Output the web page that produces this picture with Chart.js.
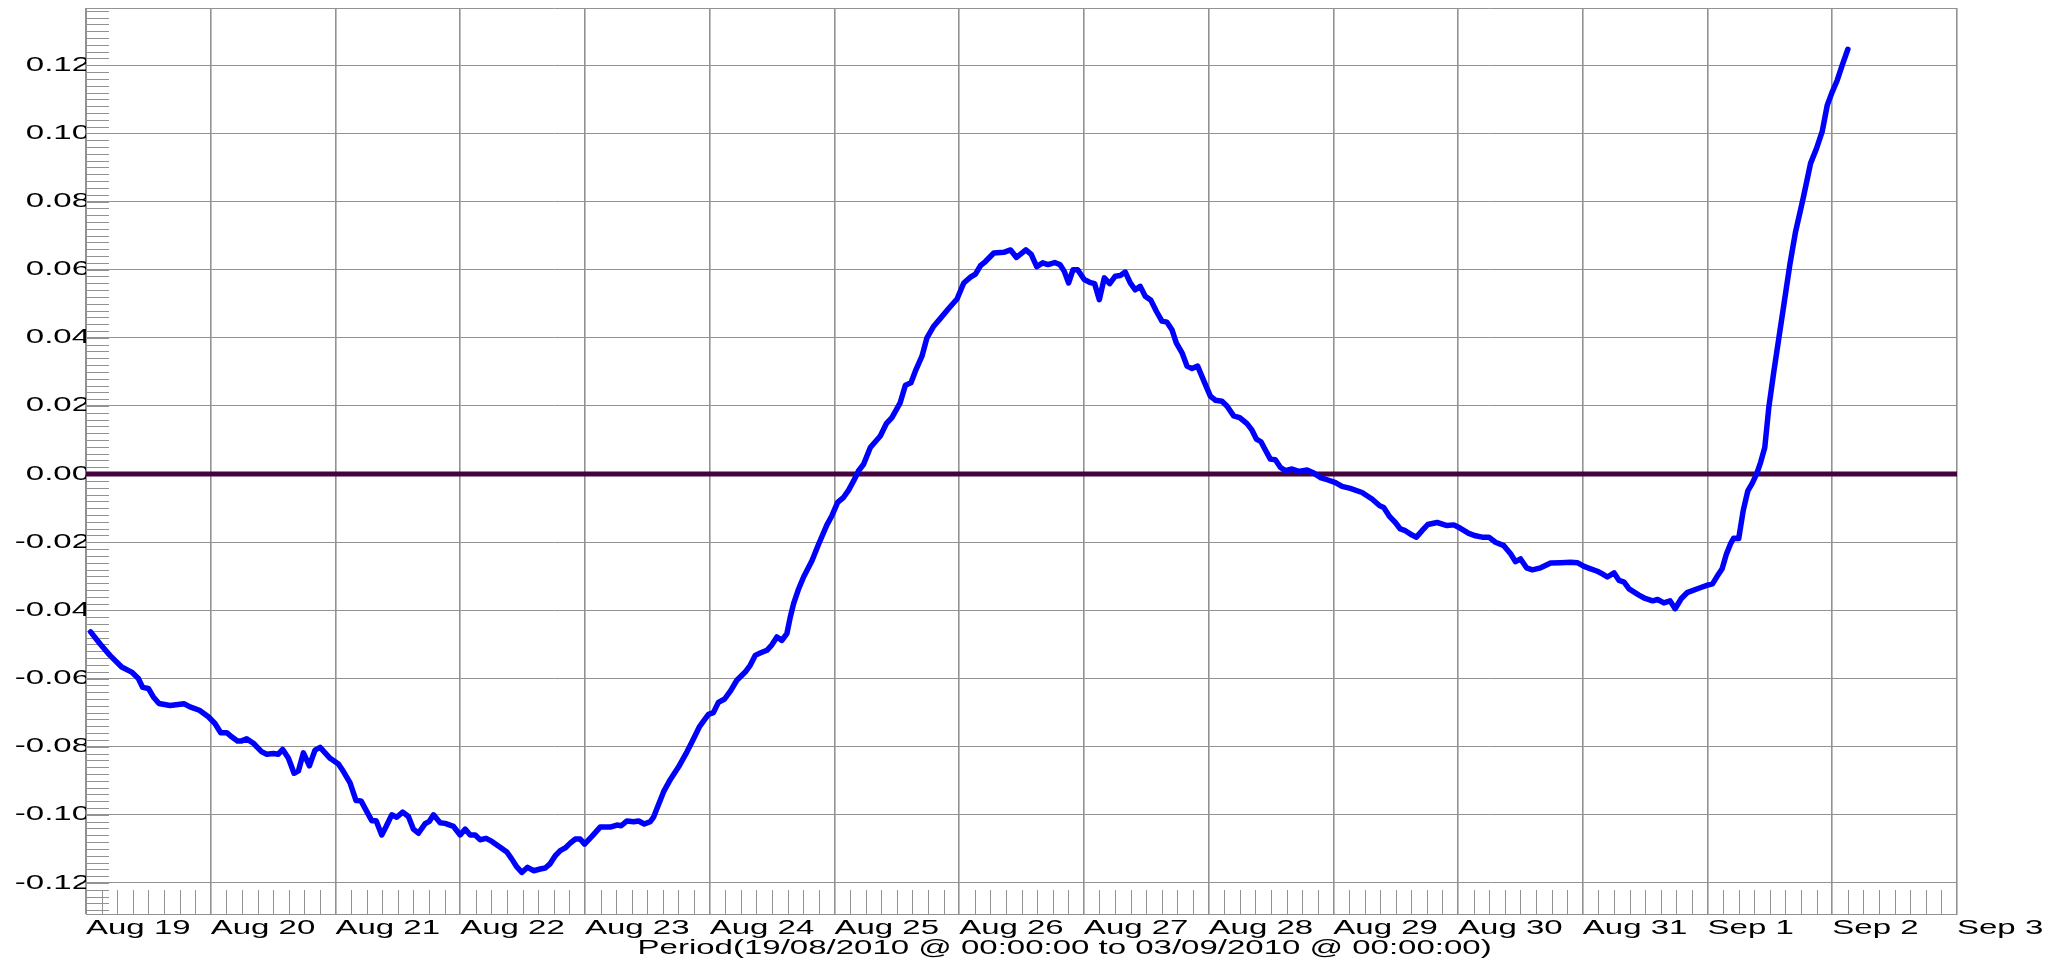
<!DOCTYPE html>
<html lang="en">
<head>
<meta charset="UTF-8">
<title>Period chart</title>
<script src="https://cdn.jsdelivr.net/npm/chart.js"></script>
<style>
body {
    margin: 0;
    background: #fff;
}
#wrap { width: 2069px; height: 962px; }
</style>
</head>
<body>
<div id="wrap"><canvas id="periodChart" width="2069" height="962"></canvas></div>
<script>
// x = days since 19/08/2010 00:00
const days=[
    0.037,0.112,0.192,0.286,0.366,0.420,0.454,0.500,0.540,0.585,0.674,0.786,0.834,0.909,0.981,
    1.034,1.080,1.128,1.168,1.214,1.248,1.288,1.342,1.409,1.449,1.502,1.542,1.577,1.623,1.668,
    1.703,1.743,1.791,1.836,1.877,1.917,1.957,2.024,2.064,2.117,2.165,2.205,2.246,2.291,2.326,
    2.371,2.406,2.451,2.491,2.539,2.585,2.625,2.665,2.719,2.753,2.786,2.839,2.879,2.946,3.000,
    3.040,3.080,3.120,3.160,3.208,3.254,3.320,3.374,3.414,3.454,3.494,3.540,3.588,3.642,3.682,
    3.722,3.762,3.802,3.842,3.882,3.922,3.962,3.997,4.056,4.122,4.203,4.256,4.291,4.337,4.390,
    4.430,4.476,4.524,4.550,4.583,4.631,4.685,4.751,4.818,4.858,4.920,4.990,5.030,5.070,5.120,
    5.170,5.218,5.285,5.325,5.365,5.405,5.459,5.499,5.539,5.579,5.619,5.646,5.673,5.713,5.753,
    5.820,5.874,5.940,5.980,6.026,6.074,6.114,6.154,6.194,6.234,6.288,6.328,6.368,6.416,6.461,
    6.528,6.569,6.614,6.649,6.702,6.742,6.796,6.850,6.916,6.983,7.037,7.091,7.131,7.171,7.211,
    7.278,7.358,7.412,7.460,7.535,7.578,7.622,7.670,7.712,7.766,7.808,7.843,7.878,7.913,7.950,
    8.003,8.046,8.086,8.124,8.164,8.207,8.252,8.292,8.332,8.372,8.412,8.452,8.492,8.538,8.581,
    8.626,8.666,8.706,8.741,8.787,8.827,8.867,8.912,8.960,9.014,9.054,9.107,9.147,9.201,9.249,
    9.308,9.348,9.383,9.420,9.455,9.495,9.535,9.575,9.615,9.669,9.722,9.789,9.843,9.896,9.963,
    10.017,10.070,10.136,10.230,10.310,10.372,10.404,10.452,10.497,10.537,10.577,10.631,10.666,10.711,10.757,
    10.832,10.912,10.966,11.019,11.086,11.140,11.193,11.247,11.300,11.367,11.421,11.461,11.501,11.549,11.595,
    11.662,11.742,11.822,11.902,11.956,12.010,12.063,12.117,12.157,12.197,12.251,12.291,12.331,12.371,12.450,
    12.500,12.560,12.600,12.650,12.700,12.740,12.790,12.836,12.930,13.000,13.040,13.077,13.117,13.152,13.184,
    13.210,13.250,13.286,13.323,13.358,13.393,13.425,13.459,13.491,13.532,13.572,13.612,13.660,13.706,13.767,
    13.826,13.874,13.919,13.960,14.000,14.040,14.080,14.125
];
const values=[
    -0.0463,-0.0498,-0.0532,-0.0566,-0.0581,-0.0600,-0.0626,-0.0629,-0.0654,-0.0673,-0.0679,-0.0674,-0.0683,-0.0693,-0.0712,
    -0.0732,-0.0759,-0.0759,-0.0771,-0.0783,-0.0783,-0.0777,-0.0790,-0.0815,-0.0822,-0.0820,-0.0822,-0.0808,-0.0834,-0.0878,
    -0.0871,-0.0818,-0.0856,-0.0810,-0.0802,-0.0818,-0.0834,-0.0851,-0.0873,-0.0906,-0.0958,-0.0959,-0.0987,-0.1017,-0.1017,
    -0.1059,-0.1034,-0.1000,-0.1007,-0.0992,-0.1005,-0.1042,-0.1054,-0.1026,-0.1019,-0.1000,-0.1023,-0.1025,-0.1034,-0.1059,
    -0.1042,-0.1059,-0.1059,-0.1073,-0.1069,-0.1078,-0.1095,-0.1109,-0.1130,-0.1153,-0.1169,-0.1154,-0.1164,-0.1159,-0.1156,
    -0.1143,-0.1120,-0.1105,-0.1097,-0.1083,-0.1071,-0.1071,-0.1086,-0.1063,-0.1036,-0.1036,-0.1030,-0.1032,-0.1018,-0.1020,
    -0.1018,-0.1027,-0.1020,-0.1007,-0.0976,-0.0932,-0.0896,-0.0859,-0.0815,-0.0786,-0.0740,-0.0705,-0.0700,-0.0670,-0.0660,
    -0.0635,-0.0605,-0.0581,-0.0561,-0.0532,-0.0525,-0.0517,-0.0501,-0.0478,-0.0488,-0.0468,-0.0420,-0.0380,-0.0337,-0.0302,
    -0.0254,-0.0205,-0.0149,-0.0122,-0.0083,-0.0068,-0.0047,-0.0020,0.0010,0.0029,0.0078,0.0095,0.0112,0.0148,0.0166,
    0.0210,0.0261,0.0268,0.0302,0.0346,0.0400,0.0434,0.0457,0.0486,0.0514,0.0561,0.0578,0.0587,0.0612,0.0624,
    0.0649,0.0651,0.0658,0.0636,0.0658,0.0645,0.0609,0.0620,0.0615,0.0621,0.0615,0.0595,0.0561,0.0600,0.0600,
    0.0571,0.0563,0.0559,0.0512,0.0576,0.0559,0.0581,0.0583,0.0593,0.0561,0.0541,0.0551,0.0522,0.0510,0.0478,
    0.0449,0.0446,0.0424,0.0385,0.0356,0.0317,0.0310,0.0317,0.0275,0.0229,0.0217,0.0214,0.0200,0.0171,0.0166,
    0.0148,0.0129,0.0103,0.0095,0.0071,0.0044,0.0042,0.0020,0.0010,0.0015,0.0008,0.0012,0.0003,-0.0010,-0.0018,
    -0.0025,-0.0036,-0.0042,-0.0054,-0.0073,-0.0093,-0.0098,-0.0125,-0.0142,-0.0161,-0.0166,-0.0179,-0.0185,-0.0166,-0.0148,
    -0.0142,-0.0151,-0.0149,-0.0159,-0.0174,-0.0181,-0.0185,-0.0185,-0.0200,-0.0210,-0.0234,-0.0257,-0.0249,-0.0275,-0.0281,
    -0.0275,-0.0261,-0.0260,-0.0259,-0.0260,-0.0271,-0.0278,-0.0285,-0.0293,-0.0302,-0.0290,-0.0312,-0.0317,-0.0337,-0.0355,
    -0.0365,-0.0372,-0.0368,-0.0378,-0.0372,-0.0395,-0.0365,-0.0348,-0.0335,-0.0326,-0.0322,-0.0300,-0.0278,-0.0234,-0.0205,
    -0.0188,-0.0189,-0.0107,-0.0049,-0.0027,0.0000,0.0034,0.0078,0.0195,0.0302,0.0400,0.0497,0.0615,0.0712,0.0810,
    0.0912,0.0956,0.1005,0.1083,0.1122,0.1156,0.1200,0.1247
];

const dayLabels=["Aug 19","Aug 20","Aug 21","Aug 22","Aug 23","Aug 24","Aug 25","Aug 26",
    "Aug 27","Aug 28","Aug 29","Aug 30","Aug 31","Sep 1","Sep 2","Sep 3"];
const yTicks=[-0.12,-0.10,-0.08,-0.06,-0.04,-0.02,0,0.02,0.04,0.06,0.08,0.10,0.12];
const zeroLine=[0,0];
const axisTitle="Period(19/08/2010 @ 00:00:00 to 03/09/2010 @ 00:00:00)";

const Y_MIN=-0.1291, Y_MAX=0.1368;
const STRETCH=1.65;          // text in the original is drawn wide
const FONT={family:"'Liberation Sans', Arial, sans-serif", size:20};
const GRID='#929292';

// widen every label drawn on the canvas
const stretchText={
    id:'stretchText',
    beforeInit(chart){
        const ctx=chart.ctx;
        const fill=ctx.fillText.bind(ctx);
        const measure=ctx.measureText.bind(ctx);
        ctx.fillText=function(t,x,y,w){
            ctx.save();
            ctx.translate(x,y);
            ctx.scale(STRETCH,1);
            if(w===undefined) fill(t,0,0); else fill(t,0,0,w/STRETCH);
            ctx.restore();
        };
        ctx.measureText=function(t){
            const m=measure(t);
            return {width:m.width*STRETCH,
                actualBoundingBoxAscent:m.actualBoundingBoxAscent,
                actualBoundingBoxDescent:m.actualBoundingBoxDescent};
        };
    }
};

// short inner tick marks: every 0.002 on y, every 3 hours on x
const minorTicks={
    id:'minorTicks',
    beforeDatasetsDraw(chart){
        const {ctx, scales:{x,y}}=chart;
        ctx.save();
        ctx.strokeStyle=GRID;
        ctx.lineWidth=1;
        ctx.beginPath();
        for(let i=Math.ceil(y.min/0.002);i*0.002<=y.max;i++){
            const py=Math.round(y.getPixelForValue(i*0.002))+0.5;
            ctx.moveTo(x.left,py);
            ctx.lineTo(x.left+23,py);
        }
        for(let i=1;i<dayLabels.length*8-8;i++){
            if(i%8===0) continue;
            const px=Math.round(x.getPixelForValue(i/8))+0.5;
            ctx.moveTo(px,y.bottom);
            ctx.lineTo(px,y.bottom-24);
        }
        ctx.stroke();
        ctx.restore();
    },
    afterDraw(chart){
        const {ctx, scales:{x}}=chart;
        ctx.save();
        ctx.font=`${FONT.size}px ${FONT.family}`;
        ctx.fillStyle='#000';
        ctx.textAlign='center';
        ctx.textBaseline='middle';
        const lastW=ctx.measureText(dayLabels[dayLabels.length-1]).width;
        ctx.fillText(axisTitle,(x.left+x.right+lastW)/2,x.top+34);
        ctx.restore();
    }
};

const ctx=document.getElementById('periodChart').getContext('2d');
new Chart(ctx,{
    type:'line',
    data:{
        datasets:[
            {
                data:days.map((d,i)=>({x:d,y:values[i]})),
                borderColor:'#0000ff',
                borderWidth:5.5,
                pointRadius:0,
                tension:0,
                borderJoinStyle:'round',
                borderCapStyle:'round'
            },
            {
                data:[{x:0,y:zeroLine[0]},{x:dayLabels.length-1,y:zeroLine[1]}],
                borderColor:'#45033e',
                borderWidth:5,
                pointRadius:0
            }
        ]
    },
    options:{
        responsive:false,
        animation:false,
        layout:{padding:{top:6,right:112,left:0,bottom:0}},
        plugins:{legend:{display:false},tooltip:{enabled:false}},
        scales:{
            x:{
                type:'linear',
                min:0,
                max:dayLabels.length-1,
                afterBuildTicks(s){ s.ticks=dayLabels.map((_,i)=>({value:i})); },
                afterFit(s){ s.height=48; },
                grid:{color:GRID,lineWidth:1.6,drawTicks:false},
                border:{color:GRID,width:1},
                ticks:{
                    autoSkip:false,maxRotation:0,align:'start',padding:2,
                    color:'#000',font:FONT,
                    callback:(v,i)=>dayLabels[i]
                }
            },
            y:{
                min:Y_MIN,
                max:Y_MAX,
                afterBuildTicks(s){ s.ticks=[Y_MIN,...yTicks,Y_MAX].map(v=>({value:v})); },
                afterFit(s){ s.width=86; },
                grid:{color:GRID,lineWidth:1,drawTicks:false},
                border:{color:GRID,width:1},
                ticks:{
                    padding:-4,color:'#000',font:FONT,
                    callback:(v,i)=>(i===0||i>yTicks.length)?'':yTicks[i-1].toFixed(2)
                }
            }
        }
    },
    plugins:[stretchText,minorTicks]
});
</script>
</body>
</html>
